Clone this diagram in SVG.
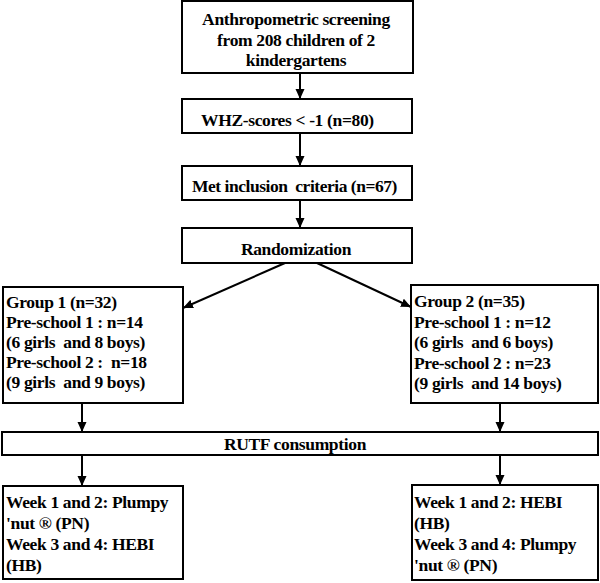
<svg xmlns="http://www.w3.org/2000/svg" width="600" height="583" viewBox="0 0 600 583">
<defs>
<style>
.box{fill:#fff;stroke:#000;stroke-width:2}
.t{font-family:"Liberation Serif","Times New Roman",serif;font-weight:bold;font-size:17.5px;fill:#000;letter-spacing:-0.35px;white-space:pre}
.c{text-anchor:middle}
.ln{stroke:#000;stroke-width:2;fill:none;marker-end:url(#ah)}
</style>
<marker id="ah" markerUnits="userSpaceOnUse" markerWidth="10" markerHeight="10" refX="10" refY="4.5" orient="auto" viewBox="0 0 10 9">
<path d="M0,0 L10,4.5 L0,9 z" fill="#000"/>
</marker>
</defs>
<rect width="600" height="583" fill="#fff"/>
<g id="connectors">
<line class="ln" x1="300" y1="73" x2="300" y2="99"/>
<line class="ln" x1="300" y1="133" x2="300" y2="166"/>
<line class="ln" x1="300" y1="200" x2="300" y2="228"/>
<line class="ln" x1="285" y1="263" x2="183" y2="308"/>
<line class="ln" x1="317" y1="263" x2="411" y2="307"/>
<line class="ln" x1="82" y1="403" x2="82" y2="432"/>
<line class="ln" x1="500" y1="403" x2="500" y2="432"/>
<line class="ln" x1="82" y1="455" x2="82" y2="486"/>
<line class="ln" x1="500" y1="455" x2="500" y2="485"/>
</g>
<g id="screening">
<rect class="box" x="182" y="1" width="231" height="72"/>
<text class="t c" x="296" y="25">Anthropometric screening</text>
<text class="t c" x="296" y="46">from 208 children of 2</text>
<text class="t c" x="296" y="66">kindergartens</text>
</g>
<g id="whz">
<rect class="box" x="182" y="99" width="230" height="34"/>
<text class="t" x="201" y="126">WHZ-scores &lt; -1 (n=80)</text>
</g>
<g id="inclusion">
<rect class="box" x="182" y="166" width="230" height="34"/>
<text class="t" x="192" y="192" xml:space="preserve" textLength="205" lengthAdjust="spacing">Met inclusion  criteria (n=67)</text>
</g>
<g id="randomization">
<rect class="box" x="182" y="228" width="230" height="35"/>
<text class="t c" x="296" y="255">Randomization</text>
</g>
<g id="group1">
<rect class="box" x="3" y="287" width="180" height="116"/>
<text class="t" x="6" y="308">Group 1 (n=32)</text>
<text class="t" x="6" y="328">Pre-school 1 : n=14</text>
<text class="t" x="6" y="348" xml:space="preserve">(6 girls  and 8 boys)</text>
<text class="t" x="6" y="368" xml:space="preserve">Pre-school 2 :  n=18</text>
<text class="t" x="6" y="388" xml:space="preserve">(9 girls  and 9 boys)</text>
</g>
<g id="group2">
<rect class="box" x="411" y="285" width="187" height="118"/>
<text class="t" x="414" y="307">Group 2 (n=35)</text>
<text class="t" x="414" y="328">Pre-school 1 : n=12</text>
<text class="t" x="414" y="348" xml:space="preserve">(6 girls  and 6 boys)</text>
<text class="t" x="414" y="369">Pre-school 2 : n=23</text>
<text class="t" x="414" y="389" xml:space="preserve">(9 girls  and 14 boys)</text>
</g>
<g id="rutf">
<rect class="box" x="2" y="432" width="596" height="23"/>
<text class="t c" x="295" y="450">RUTF consumption</text>
</g>
<g id="week1">
<rect class="box" x="3" y="486" width="180" height="93"/>
<text class="t" x="6" y="508">Week 1 and 2: Plumpy</text>
<text class="t" x="6" y="529">'nut ® (PN)</text>
<text class="t" x="6" y="550">Week 3 and 4: HEBI</text>
<text class="t" x="6" y="571">(HB)</text>
</g>
<g id="week2">
<rect class="box" x="412" y="485" width="186" height="95"/>
<text class="t" x="414" y="508">Week 1 and 2: HEBI</text>
<text class="t" x="414" y="529">(HB)</text>
<text class="t" x="414" y="550">Week 3 and 4: Plumpy</text>
<text class="t" x="414" y="571">'nut ® (PN)</text>
</g>
</svg>
